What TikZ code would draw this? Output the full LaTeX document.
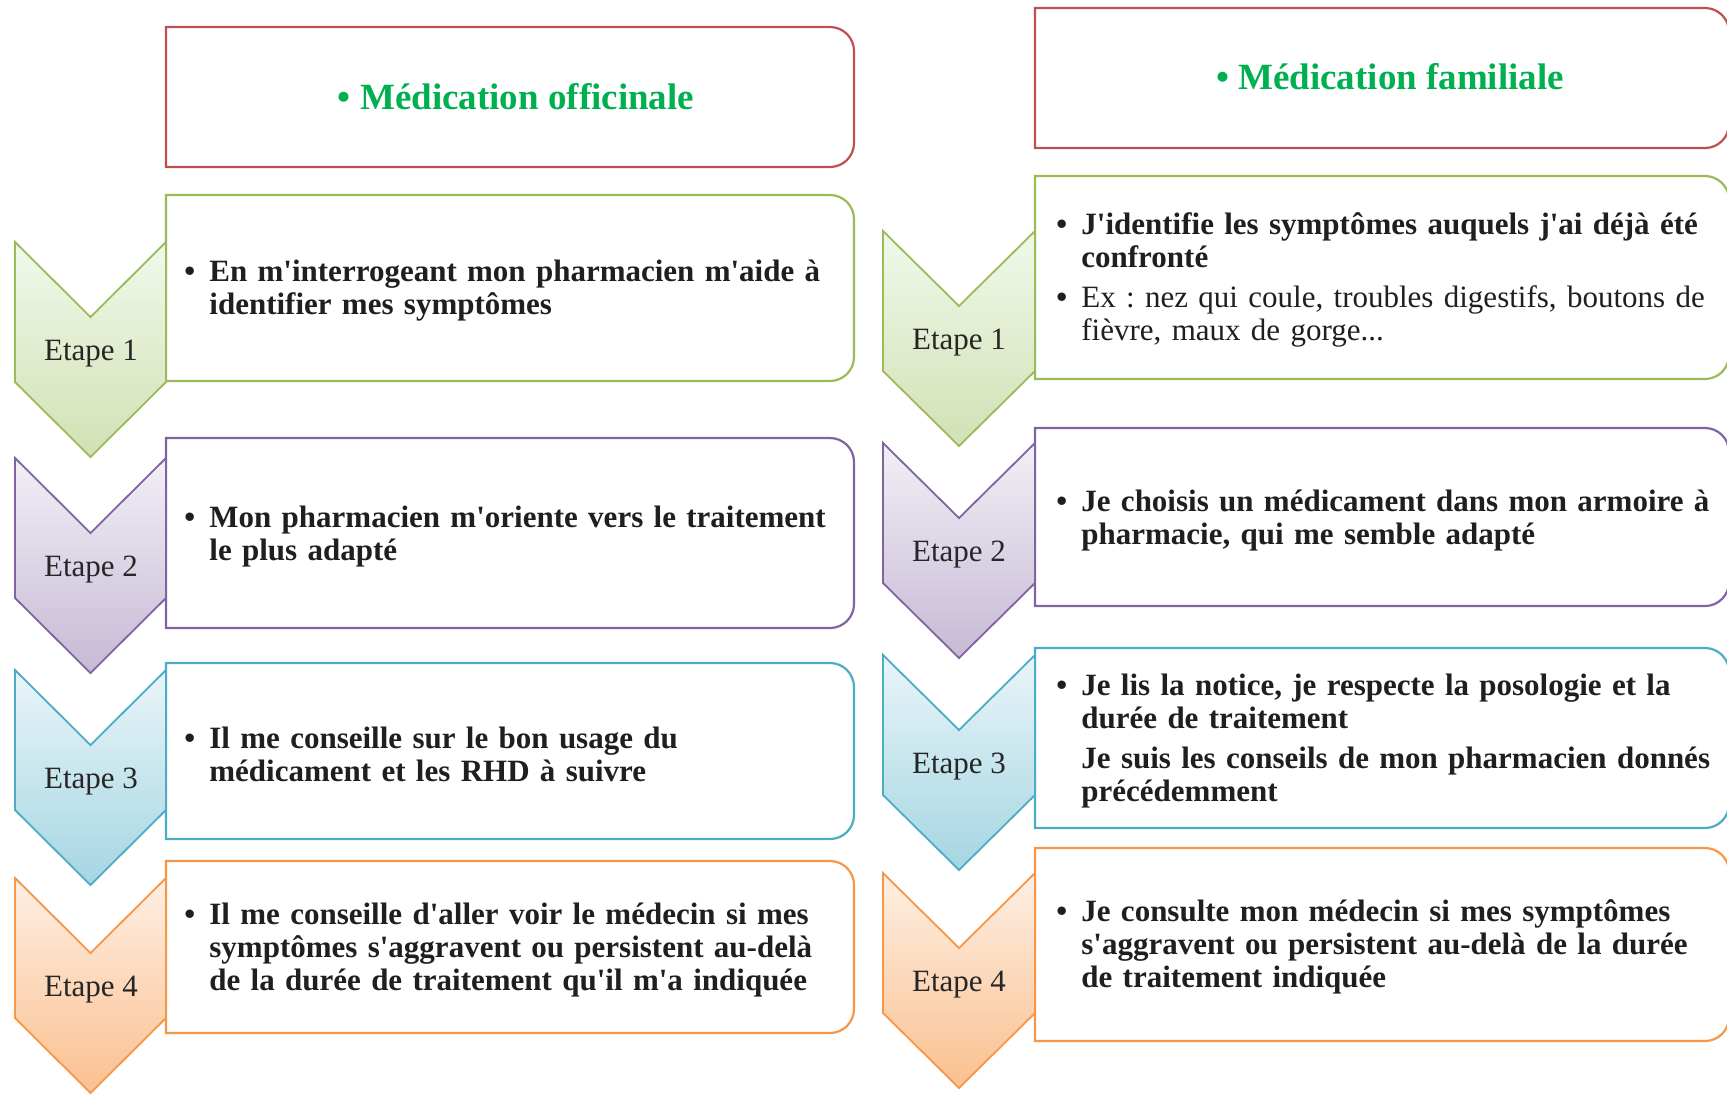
\documentclass[tikz,border=0pt]{standalone}
\usepackage{fontspec}
\setmainfont{Liberation Serif}[Ligatures=TeXOff]
\frenchspacing

\definecolor{redline}{HTML}{C0504D}
\definecolor{greenline}{HTML}{9BBB59}
\definecolor{purpleline}{HTML}{8064A2}
\definecolor{blueline}{HTML}{4BACC6}
\definecolor{orangeline}{HTML}{F79646}
\definecolor{titlegreen}{HTML}{00B050}

\newcommand{\puce}[1]{\par\noindent\hangindent=12.5pt\makebox[12.5pt][l]{\textbullet}#1\par}
\newcommand{\suite}[1]{\par\noindent\hangindent=12.5pt\hspace*{12.5pt}#1\par}

\begin{document}
\begin{tikzpicture}[x=0.5pt,y=-0.5pt]
        \tikzstyle{box}=[line width=1.1pt]
        \tikzstyle{chev}=[line width=0.9pt]
        \tikzstyle{etape}=[inner sep=0pt,text=black!85,font=\fontsize{15.5}{17}\selectfont]
        \tikzstyle{txt}=[anchor=west,inner sep=0pt,text width=360pt,align=left,text=black!88,
                         font=\fontsize{15.5}{16.5}\selectfont\bfseries,
                         execute at begin node=\setlength{\parskip}{3.3pt}]
        \tikzstyle{titre}=[inner sep=0pt,text=titlegreen,font=\fontsize{18.5}{20}\selectfont\bfseries]

        \useasboundingbox (0,0) rectangle (1727,1094);

        % colonne de gauche
        \draw[box,redline] (166,27) -- (830,27) arc[start angle=90,end angle=0,radius=12pt] -- (854,143) arc[start angle=0,end angle=-90,radius=12pt] -- (166,167) -- cycle;
        \draw[box,greenline] (166,195) -- (830,195) arc[start angle=90,end angle=0,radius=12pt] -- (854,357) arc[start angle=0,end angle=-90,radius=12pt] -- (166,381) -- cycle;
        \draw[box,purpleline] (166,438) -- (830,438) arc[start angle=90,end angle=0,radius=12pt] -- (854,604) arc[start angle=0,end angle=-90,radius=12pt] -- (166,628) -- cycle;
        \draw[box,blueline] (166,663) -- (830,663) arc[start angle=90,end angle=0,radius=12pt] -- (854,815) arc[start angle=0,end angle=-90,radius=12pt] -- (166,839) -- cycle;
        \draw[box,orangeline] (166,861) -- (830,861) arc[start angle=90,end angle=0,radius=12pt] -- (854,1009) arc[start angle=0,end angle=-90,radius=12pt] -- (166,1033) -- cycle;

        \path[chev,draw=greenline,top color=green!40!olive!8!white,bottom color=greenline!45!white] (15,242) -- ++(0,140) -- ++(75.5,75) -- ++(75.5,-75) -- ++(0,-140) -- ++(-75.5,75) -- cycle;
        \path[chev,draw=purpleline,top color=purpleline!10!white,bottom color=purpleline!45!white] (15,458) -- ++(0,140) -- ++(75.5,75) -- ++(75.5,-75) -- ++(0,-140) -- ++(-75.5,75) -- cycle;
        \path[chev,draw=blueline,top color=blueline!12!white,bottom color=blueline!50!white] (15,670) -- ++(0,140) -- ++(75.5,75) -- ++(75.5,-75) -- ++(0,-140) -- ++(-75.5,75) -- cycle;
        \path[chev,draw=orangeline,top color=orangeline!15!white,bottom color=orangeline!60!white] (15,878) -- ++(0,140) -- ++(75.5,75) -- ++(75.5,-75) -- ++(0,-140) -- ++(-75.5,75) -- cycle;

        \node[titre] (off) at (516,97) {\textbullet\ Médication officinale};

        \node[etape] (e1g) at (91,354) {Etape 1};
        \node[etape] (e2g) at (91,570) {Etape 2};
        \node[etape] (e3g) at (91,782) {Etape 3};
        \node[etape] (e4g) at (91,990) {Etape 4};

        \node[txt] (t1g) at (184,282) {\puce{En m'interrogeant mon pharmacien m'aide à\newline identifier mes symptômes}};
        \node[txt] (t2g) at (184,527) {\puce{Mon pharmacien m'oriente vers le traitement\newline le plus adapté}};
        \node[txt] (t3g) at (184,745) {\puce{Il me conseille sur le bon usage du\newline médicament et les RHD à suivre}};
        \node[txt] (t4g) at (184,941) {\puce{Il me conseille d'aller voir le médecin si mes\newline symptômes s'aggravent ou persistent au-delà\newline de la durée de traitement qu'il m'a indiquée}};

        % colonne de droite
        \draw[box,redline] (1035,8) -- (1705,8) arc[start angle=90,end angle=0,radius=12pt] -- (1729,124) arc[start angle=0,end angle=-90,radius=12pt] -- (1035,148) -- cycle;
        \draw[box,greenline] (1035,176) -- (1705,176) arc[start angle=90,end angle=0,radius=12pt] -- (1729,355) arc[start angle=0,end angle=-90,radius=12pt] -- (1035,379) -- cycle;
        \draw[box,purpleline] (1035,428) -- (1705,428) arc[start angle=90,end angle=0,radius=12pt] -- (1729,582) arc[start angle=0,end angle=-90,radius=12pt] -- (1035,606) -- cycle;
        \draw[box,blueline] (1035,648) -- (1705,648) arc[start angle=90,end angle=0,radius=12pt] -- (1729,804) arc[start angle=0,end angle=-90,radius=12pt] -- (1035,828) -- cycle;
        \draw[box,orangeline] (1035,848) -- (1705,848) arc[start angle=90,end angle=0,radius=12pt] -- (1729,1017) arc[start angle=0,end angle=-90,radius=12pt] -- (1035,1041) -- cycle;

        \path[chev,draw=greenline,top color=green!40!olive!8!white,bottom color=greenline!45!white] (883,231) -- ++(0,140) -- ++(76,75) -- ++(76,-75) -- ++(0,-140) -- ++(-76,75) -- cycle;
        \path[chev,draw=purpleline,top color=purpleline!10!white,bottom color=purpleline!45!white] (883,443) -- ++(0,140) -- ++(76,75) -- ++(76,-75) -- ++(0,-140) -- ++(-76,75) -- cycle;
        \path[chev,draw=blueline,top color=blueline!12!white,bottom color=blueline!50!white] (883,655) -- ++(0,140) -- ++(76,75) -- ++(76,-75) -- ++(0,-140) -- ++(-76,75) -- cycle;
        \path[chev,draw=orangeline,top color=orangeline!15!white,bottom color=orangeline!60!white] (883,873) -- ++(0,140) -- ++(76,75) -- ++(76,-75) -- ++(0,-140) -- ++(-76,75) -- cycle;

        \node[titre] (fam) at (1390,77) {\textbullet\ Médication familiale};

        \node[etape] (e1d) at (959,343) {Etape 1};
        \node[etape] (e2d) at (959,555) {Etape 2};
        \node[etape] (e3d) at (959,767) {Etape 3};
        \node[etape] (e4d) at (959,985) {Etape 4};

        \node[txt] (t1d) at (1056,271) {\puce{J'identifie les symptômes auquels j'ai déjà été\newline confronté}\puce{\mdseries Ex : nez qui coule, troubles digestifs, boutons de\newline fièvre, maux de gorge...}};
        \node[txt] (t2d) at (1056,511) {\puce{Je choisis un médicament dans mon armoire à\newline pharmacie, qui me semble adapté}};
        \node[txt] (t3d) at (1056,732) {\puce{Je lis la notice, je respecte la posologie et la\newline durée de traitement}\suite{Je suis les conseils de mon pharmacien donnés\newline précédemment}};
        \node[txt] (t4d) at (1056,938) {\puce{Je consulte mon médecin si mes symptômes\newline s'aggravent ou persistent au-delà de la durée\newline de traitement indiquée}};
\end{tikzpicture}
\end{document}
